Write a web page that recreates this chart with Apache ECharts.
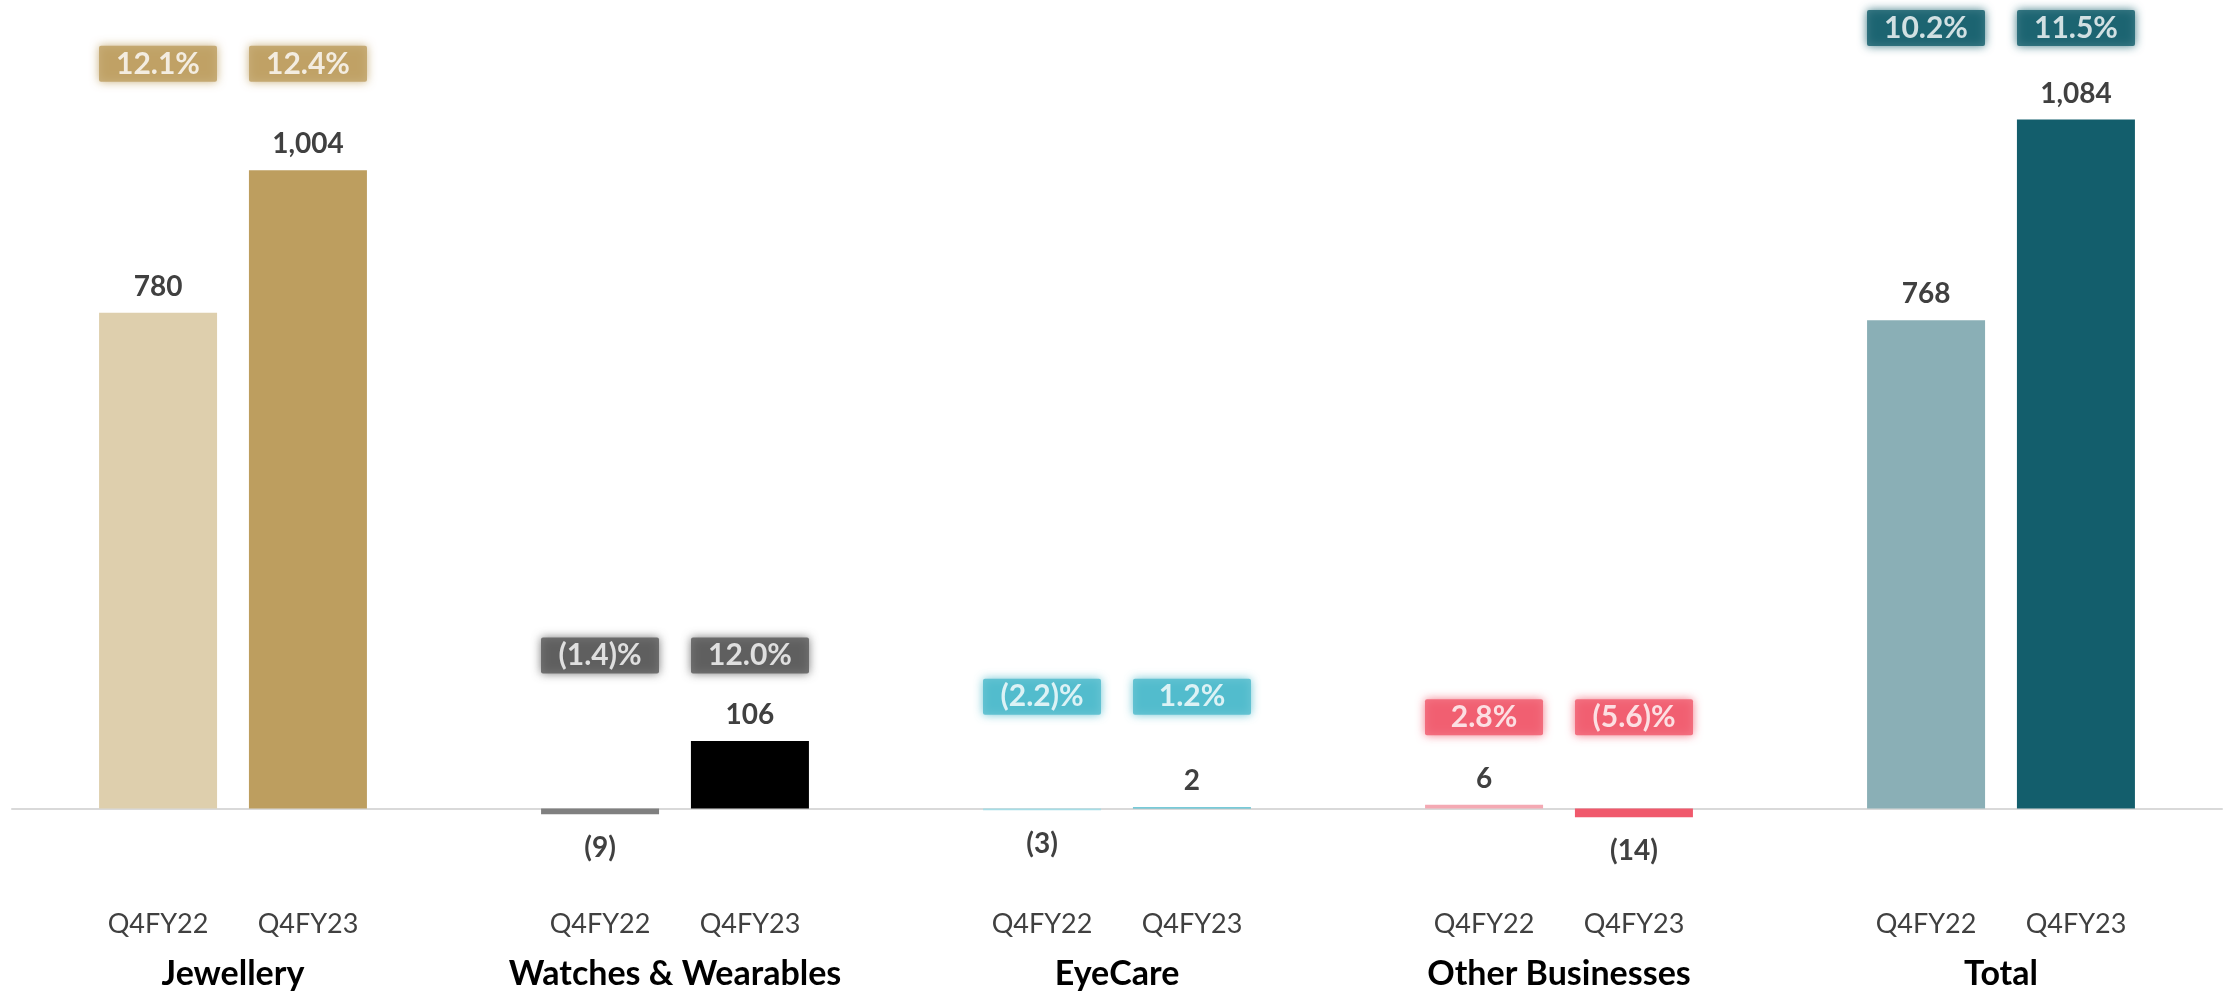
<!DOCTYPE html>
<html>
<head>
<meta charset="utf-8">
<title>EBIT by segment</title>
<script src="https://cdn.jsdelivr.net/npm/echarts@6/dist/echarts.min.js"></script>
<style>
  html, body { margin: 0; padding: 0; background: #ffffff; }
  #chart { width: 2236px; height: 991px; }
</style>
</head>
<body>
<div id="chart"></div>
<script>
// Segment results, Rs crore, with margin %
const segments = ['Jewellery', 'Watches & Wearables', 'EyeCare', 'Other Businesses', 'Total'];
const periods = ['Q4FY22', 'Q4FY23'];
const valuesQ4FY22 = [780, -9, -3, 6, 768];
const valuesQ4FY23 = [1004, 106, 2, -14, 1084];
const marginsQ4FY22 = [12.1, -1.4, -2.2, 2.8, 10.2];
const marginsQ4FY23 = [12.4, 12.0, 1.2, -5.6, 11.5];

// Colours per segment: earlier period (light), later period (dark), margin tag
const lightColors = ['#DECFAD', '#808080', '#A6DDE6', '#F4A9B3', '#8AAFB6'];
const darkColors  = ['#BD9E5F', '#000000', '#4BB9CB', '#F0596C', '#135E6C'];
const tagColors   = ['#BD9E5F', '#595959', '#4BB9CB', '#F0596C', '#135E6C'];
// How far (px) each segment's margin tags sit above the taller bar
const tagLift = [106, 85, 110, 87, 91];

const FONT = 'Lato';
const BAR_W = 118;
const HALF_STEP = 75; // distance from category centre to each bar centre

const fmtValue = v => v < 0 ? '(' + Math.abs(v).toLocaleString('en-US') + ')' : v.toLocaleString('en-US');
const fmtPct = v => v < 0 ? '(' + Math.abs(v).toFixed(1) + ')%' : v.toFixed(1) + '%';

function barData(values, colors) {
  return values.map((v, i) => ({
    value: v,
    itemStyle: { color: colors[i] },
    label: v < 0 ? { position: 'bottom', distance: 20 } : { position: 'top', distance: 12 }
  }));
}

function tagData(margins) {
  return margins.map((m, i) => {
    const top = Math.max(0, valuesQ4FY22[i], valuesQ4FY23[i]);
    return {
      value: [segments[i], top],
      pct: m,
      label: {
        backgroundColor: tagColors[i],
        shadowColor: tagColors[i],
        distance: tagLift[i] - 18
      }
    };
  });
}

function tagSeries(name, margins, dx) {
  return {
    name: name + ' margin',
    type: 'scatter',
    silent: true,
    symbolSize: 1,
    itemStyle: { color: 'rgba(0,0,0,0)' },
    z: 10,
    data: tagData(margins),
    label: {
      show: true,
      position: 'top',
      offset: [dx, 0],
      formatter: p => fmtPct(p.data.pct),
      color: '#ffffff',
      fontFamily: FONT,
      fontWeight: 'bold',
      fontSize: 30,
      width: 110,
      height: 30,
      lineHeight: 30,
      align: 'center',
      padding: [3, 4],
      borderRadius: 2,
      shadowBlur: 10,
      shadowOffsetX: 0,
      shadowOffsetY: 0
    }
  };
}

const valueLabel = {
  show: true,
  formatter: p => fmtValue(p.value),
  color: '#404040',
  fontFamily: FONT,
  fontWeight: 'bold',
  fontSize: 28
};

const chart = echarts.init(document.getElementById('chart'), null, { renderer: 'canvas' });

chart.setOption({
  animation: false,
  backgroundColor: '#ffffff',
  grid: {
    left: 12, right: 14, top: 14, bottom: 119,
    containLabel: false,
    outerBoundsMode: 'none'
  },
  xAxis: {
    type: 'category',
    data: segments,
    axisLine: { show: true, onZero: true, lineStyle: { color: '#D9D9D9', width: 2 } },
    axisTick: { show: false },
    axisLabel: {
      interval: 0,
      margin: 27,
      formatter: name => '{p|' + periods[0] + '}{p|' + periods[1] + '}\n{g|' + name + '}',
      rich: {
        p: {
          width: 2 * HALF_STEP,
          align: 'center',
          fontFamily: FONT,
          fontSize: 27,
          color: '#404040',
          lineHeight: 50
        },
        g: {
          fontFamily: FONT,
          fontSize: 34,
          fontWeight: 'bold',
          color: '#000000',
          lineHeight: 50
        }
      }
    }
  },
  yAxis: {
    type: 'value',
    min: -100,
    max: 1250,
    show: false,
    splitLine: { show: false }
  },
  series: [
    {
      name: periods[0],
      type: 'bar',
      barWidth: BAR_W,
      barGap: '27%',
      data: barData(valuesQ4FY22, lightColors),
      label: valueLabel
    },
    {
      name: periods[1],
      type: 'bar',
      barWidth: BAR_W,
      barGap: '27%',
      data: barData(valuesQ4FY23, darkColors),
      label: valueLabel
    },
    tagSeries(periods[0], marginsQ4FY22, -HALF_STEP),
    tagSeries(periods[1], marginsQ4FY23, HALF_STEP)
  ]
});
</script>
</body>
</html>
